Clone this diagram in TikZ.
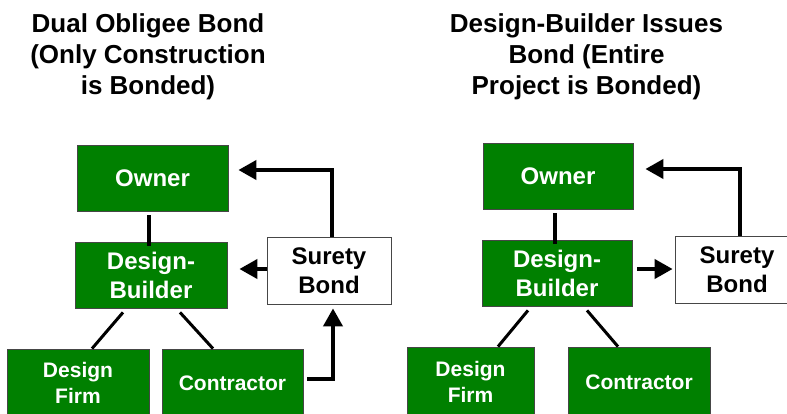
\documentclass[tikz,border=0pt]{standalone}
\usepackage{fontspec}
\setmainfont{Liberation Sans}
\usetikzlibrary{arrows.meta}
\definecolor{boxgreen}{RGB}{0,128,0}
\definecolor{edgegray}{RGB}{70,70,70}
\begin{document}
\begin{tikzpicture}[x=1pt,y=-1pt,
  gbox/.style={draw=edgegray,line width=0.8pt,fill=boxgreen,text=white,align=center,inner sep=0pt,
    font=\bfseries\fontsize{24}{29}\selectfont},
  wbox/.style={gbox,fill=white,text=black},
  smalltext/.style={font=\bfseries\fontsize{21}{26}\selectfont},
  titletext/.style={font=\bfseries\fontsize{26}{31}\selectfont,align=center,anchor=base,inner sep=0pt},
  conn/.style={line width=4pt},
  diag/.style={line width=3pt},
  arr/.style={line width=4pt,-{Triangle[length=18pt,width=19pt]}}
]
\fill[white] (0,0) rectangle (787,413);
\clip (0,0) rectangle (787,413);

% titles
\node[titletext] (t1) at (148,94) {Dual Obligee Bond\\(Only Construction\\is Bonded)};
\node[titletext] (t2) at (586.5,94) {Design-Builder Issues\\Bond (Entire\\Project is Bonded)};

% left diagram
\node[gbox,minimum width=151pt,minimum height=66pt] (ow) at (152.5,178) {Owner};
\node[gbox,minimum width=152pt,minimum height=66pt] (db) at (151,275) {Design-\\Builder};
\node[wbox,minimum width=124pt,minimum height=67pt] (sb) at (329,270.5) {Surety\\Bond};
\node[gbox,smalltext,minimum width=142pt,minimum height=68pt] (df) at (78,383) {Design\\Firm};
\node[gbox,smalltext,minimum width=141pt,minimum height=68pt] (ct) at (232.5,383) {Contractor};

\draw[conn] ([shift={(-3.5,4)}]ow.south) -- ([shift={(-3.5,4)}]ow.south |- db.north);
\draw[diag] ([shift={(-28,4)}]db.south) -- ([xshift=14pt]df.north);
\draw[diag] ([shift={(29,4)}]db.south) -- ([xshift=-19.5pt]ct.north);
\draw[arr] ([xshift=3pt]sb.north) |- ([shift={(10,-8)}]ow.east);
\draw[arr] ([yshift=1.5pt]sb.west) -- ([shift={(12,-6)}]db.east);
\draw[arr] ([shift={(4,-4)}]ct.east) -| ([shift={(4,4)}]sb.south);

% right diagram
\node[gbox,minimum width=150pt,minimum height=66pt] (ow2) at (558,176) {Owner};
\node[gbox,minimum width=150pt,minimum height=66pt] (db2) at (557,273) {Design-\\Builder};
\node[wbox,minimum width=124pt,minimum height=67pt] (sb2) at (737,269.5) {Surety\\Bond};
\node[gbox,smalltext,minimum width=127pt,minimum height=70pt] (df2) at (470.5,382) {Design\\Firm};
\node[gbox,smalltext,minimum width=142pt,minimum height=70pt] (ct2) at (639,382) {Contractor};

\draw[conn] ([shift={(-3,4)}]ow2.south) -- ([shift={(-3,4)}]ow2.south |- db2.north);
\draw[diag] ([shift={(-29,4)}]db2.south) -- ([xshift=27.5pt]df2.north);
\draw[diag] ([shift={(30,4)}]db2.south) -- ([xshift=-21pt]ct2.north);
\draw[arr] ([shift={(5,-4)}]db2.east) -- ([shift={(-2,-0.5)}]sb2.west);
\draw[arr] ([xshift=3pt]sb2.north) |- ([shift={(12,-7)}]ow2.east);
\end{tikzpicture}
\end{document}
